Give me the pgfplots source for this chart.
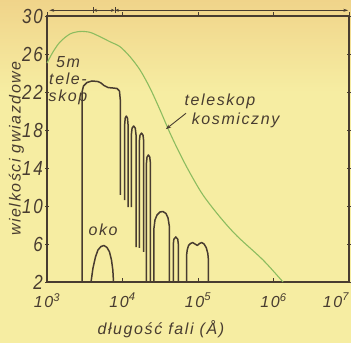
\documentclass[border=0pt]{standalone}
\usepackage{fontspec}
\setmainfont{Liberation Sans}[LetterSpace=10]
\usepackage{graphicx}
\usepackage{pgfplots}
\pgfplotsset{compat=1.18}
\usetikzlibrary{arrows.meta}
\definecolor{ink}{RGB}{72,60,48}
\definecolor{grn}{RGB}{140,188,95}
\definecolor{paper}{RGB}{246,237,162}
\definecolor{paperT}{RGB}{240,212,138}
\newcommand\yl[1]{\scalebox{1}[1.2]{#1}}
\newcommand\xl[1]{10\textsuperscript{#1}}
\begin{document}
\begin{tikzpicture}
\fill[paper] (-47bp,-61bp) rectangle (304bp,282bp);
\shade[top color=paperT, bottom color=paper] (-47bp,190bp) rectangle (304bp,282bp);
\begin{axis}[
  at={(0,0)}, anchor=south west,
  scale only axis, width=302bp, height=266bp,
  xmin=3, xmax=7, ymin=2, ymax=30,
  clip=false,
  axis line style={draw=ink, line width=1.2pt},
  tick style={draw=ink, line width=1pt},
  major tick length=4bp,
  tick align=center,
  x tick style={yshift=2bp},
  xtick={3,4,5,6,7},
  xticklabels={\xl{3},\xl{4},\xl{5},\xl{6},\makebox[0pt][r]{\xl{7}}},
  ytick={2,6,10,14,18,22,26,30},
  yticklabels={\yl{2},\yl{6},\yl{10},\yl{14},\yl{18},\yl{22},\yl{26},\yl{30}},
  yticklabel style={font=\fontsize{17bp}{17bp}\selectfont\itshape, text=ink, inner sep=0pt, xshift=-2bp},
  xticklabel style={font=\fontsize{16bp}{16bp}\selectfont\itshape, text=ink, inner sep=0pt, yshift=-9bp},
  xlabel={długość fali (Å)},
  xlabel style={at={(axis description cs:0.377,-0.177)}, anchor=center, font=\fontsize{16bp}{16bp}\selectfont\itshape, text=ink},
  ylabel={wielkości gwiazdowe},
  ylabel style={at={(axis description cs:-0.101,0.502)}, anchor=center, font=\fontsize{16bp}{16bp}\selectfont\itshape, text=ink},
]
% space telescope
\addplot[grn, line width=1.1pt, smooth, tension=0.5] coordinates {
(3.000,25.05) (3.079,26.21) (3.172,27.26) (3.305,28.11) (3.437,28.37)
(3.570,28.28) (3.702,27.82) (3.834,27.29) (3.967,26.77) (4.099,25.72)
(4.232,24.32) (4.364,22.42) (4.497,20.11) (4.629,17.68) (4.762,15.47)
(4.894,13.47) (5.066,11.16) (5.291,8.84) (5.517,6.84)
(5.861,4.32) (6.126,2.0)};
% 5m telescope, main window
\addplot[ink, line width=1.5pt, line join=round] coordinates {
(3.464,2) (3.464,22.0) (3.483,22.63) (3.530,23.0) (3.596,23.16) (3.675,23.1)
(3.715,22.95) (3.755,22.68) (3.808,22.47) (3.874,22.42) (3.927,22.37)
(3.960,22.1) (3.971,21.16) (3.971,11.16)};
% infrared windows
\addplot[ink, line width=1.5pt, line join=round] coordinates {
(4.029,10.63) (4.029,18.6) (4.036,19.25) (4.051,19.47) (4.066,19.25) (4.073,18.6) (4.073,9.89)};
\addplot[ink, line width=1.5pt, line join=round] coordinates {
(4.117,9.89) (4.117,17.5) (4.127,18.2) (4.148,18.42) (4.169,18.2) (4.179,17.5) (4.179,5.68)};
\addplot[ink, line width=1.5pt, line join=round] coordinates {
(4.223,5.58) (4.223,16.8) (4.232,17.45) (4.252,17.68) (4.272,17.45) (4.281,16.8) (4.281,5.16)};
\addplot[ink, line width=1.5pt, line join=round] coordinates {
(4.317,2) (4.317,14.5) (4.325,15.15) (4.343,15.37) (4.361,15.15) (4.370,14.5) (4.370,2)};
\addplot[ink, line width=1.5pt, line join=round] coordinates {
(4.417,2) (4.417,7.68) (4.430,8.53) (4.457,9.05) (4.497,9.37) (4.536,9.42)
(4.576,9.21) (4.603,8.74) (4.620,7.89) (4.620,2)};
\addplot[ink, line width=1.5pt, line join=round] coordinates {
(4.673,2) (4.673,6.0) (4.680,6.5) (4.706,6.74) (4.732,6.5) (4.739,6.0) (4.739,2)};
\addplot[ink, line width=1.5pt, line join=round] coordinates {
(4.850,2) (4.850,4.9) (4.858,5.4) (4.875,5.85) (4.900,6.05) (4.930,6.15)
(4.960,6.0) (4.991,5.85) (5.020,6.05) (5.049,6.15) (5.080,6.0) (5.110,5.6)
(5.130,5.0) (5.136,4.5) (5.136,2)};
% eye
\addplot[ink, line width=1.5pt, line join=round] coordinates {
(3.583,2) (3.609,3.47) (3.642,4.63) (3.675,5.37) (3.715,5.74) (3.755,5.84)
(3.795,5.63) (3.828,5.16) (3.854,4.32) (3.872,3.26) (3.881,2)};
% texts
\node[align=center, inner sep=0pt, text=ink, font=\fontsize{16bp}{17bp}\selectfont\itshape] at (axis cs:3.278,23.21) {5m\\tele-\\skop};
\node[anchor=west, inner sep=0pt, text=ink, font=\fontsize{16bp}{16bp}\selectfont\itshape] at (axis cs:4.82,21.0) {teleskop};
\node[anchor=west, inner sep=0pt, text=ink, font=\fontsize{16bp}{16bp}\selectfont\itshape] at (axis cs:4.916,19.05) {kosmiczny};
\node[inner sep=0pt, text=ink, font=\fontsize{16bp}{16bp}\selectfont\itshape] at (axis cs:3.742,7.47) {oko};
\draw[ink, line width=0.9pt, -{Stealth[length=5bp,width=4bp]}] (axis cs:4.841,19.76) -- (axis cs:4.576,18.1);
% spectral range bar above the axis
\draw[ink, line width=0.7pt, -{Stealth[length=5bp,width=3bp]}] (axis cs:3.61,30.6) -- (axis cs:3.03,30.6);
\draw[ink, line width=0.7pt, {Stealth[length=4bp,width=3bp]}-{Stealth[length=4bp,width=3bp]}] (axis cs:3.61,30.6) -- (axis cs:3.90,30.6);
\draw[ink, line width=0.7pt, {Stealth[length=4bp,width=3bp]}-{Stealth[length=5bp,width=3bp]}] (axis cs:3.90,30.6) -- (axis cs:6.99,30.6);
\draw[ink, line width=0.7pt] (axis cs:3.61,30.3) -- (axis cs:3.61,30.95);
\draw[ink, line width=0.7pt] (axis cs:3.90,30.3) -- (axis cs:3.90,30.95);
\end{axis}
\pgfresetboundingbox
\path (-47bp,-61bp) rectangle (304bp,282bp);
\end{tikzpicture}
\end{document}
